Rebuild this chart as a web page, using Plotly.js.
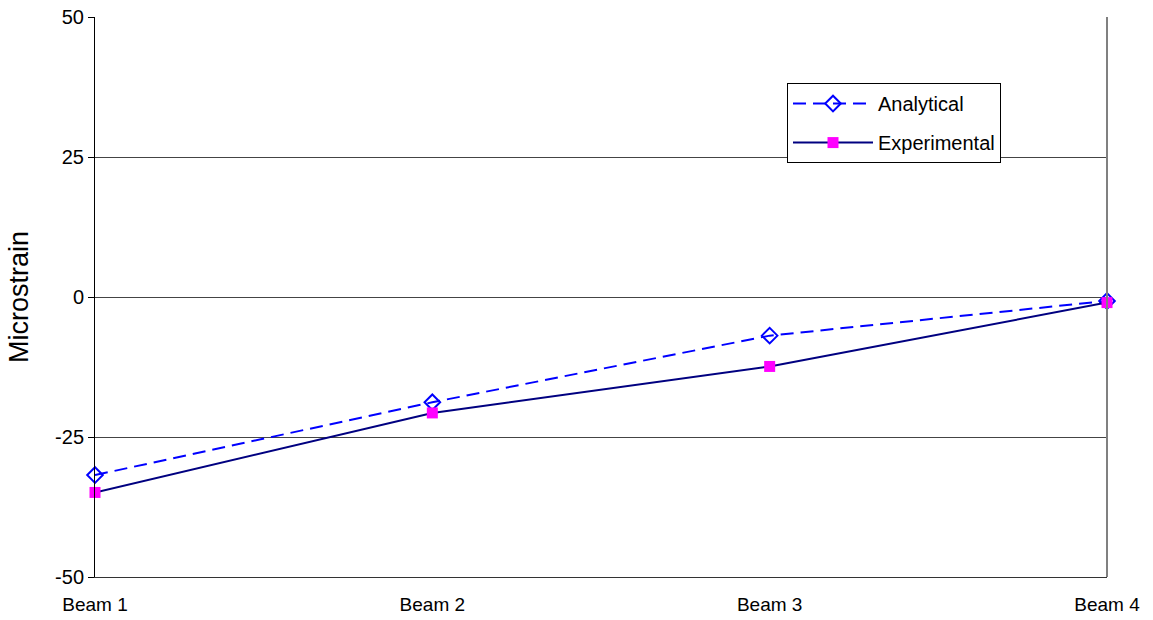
<!DOCTYPE html>
<html><head><meta charset="utf-8">
<script src="https://cdn.plot.ly/plotly-3.0.1.min.js"></script>
<style>body{margin:0;background:#fff}</style>
</head><body>
<div id="chart" style="width:1153px;height:620px"></div>
<script>
const categories = ["Beam 1", "Beam 2", "Beam 3", "Beam 4"];
const analytical = [-31.8, -18.8, -6.9, -0.7];
const experimental = [-34.9, -20.7, -12.4, -1.0];
const yTicks = [-50, -25, 0, 25, 50];
const yTickText = ["-50", "-25", "0", "25", "50"];

const xIdx = categories.map((c, i) => i);
const traces = [
  {x: xIdx, y: analytical, name: "Analytical", legendgroup: "a", mode: "lines+markers", type: "scatter", cliponaxis: false,
   line: {color: "#0000ff", width: 2, dash: "13px,7px"},
   marker: {symbol: "diamond-open", size: 12, color: "#0000ff", line: {width: 2, color: "#0000ff"}}},
  {x: xIdx, y: experimental, name: "Experimental", legendgroup: "b", mode: "lines+markers", type: "scatter", cliponaxis: false,
   line: {color: "#000080", width: 2},
   marker: {symbol: "square", size: 11, color: "#ff00ff"}}
];
const layout = {
  width: 1153, height: 620,
  margin: {l: 95, r: 46, t: 17, b: 43},
  paper_bgcolor: "#fff", plot_bgcolor: "#fff",
  font: {family: "Liberation Sans, Arial, sans-serif", size: 20, color: "#000"},
  showlegend: true,
  legend: {x: 0.6838, y: 0.882, xanchor: "left", yanchor: "top",
    bordercolor: "#000", borderwidth: 1, bgcolor: "#fff",
    font: {size: 20}, itemwidth: 80, tracegroupgap: 10},
  xaxis: {range: [0, 3], tickvals: xIdx, ticktext: categories, showgrid: false,
    zeroline: false, showline: true, linecolor: "#333", linewidth: 1,
    ticks: "", tickfont: {size: 19}, ticklabelstandoff: 10},
  yaxis: {range: [-50, 50], tickvals: yTicks, ticktext: yTickText, showgrid: true, gridcolor: "#444", gridwidth: 1,
    zeroline: false, showline: true, linecolor: "#000", linewidth: 1,
    ticks: "outside", ticklen: 6, tickcolor: "#000", tickfont: {size: 20},
    title: {text: "Microstrain", font: {size: 27}, standoff: 18}},
  shapes: [
    {type: "line", xref: "paper", yref: "paper", x0: 1, x1: 1, y0: 0, y1: 1,
     line: {color: "#808080", width: 2}}
  ]
};
Plotly.newPlot("chart", traces, layout, {displayModeBar: false});
</script>
</body></html>
